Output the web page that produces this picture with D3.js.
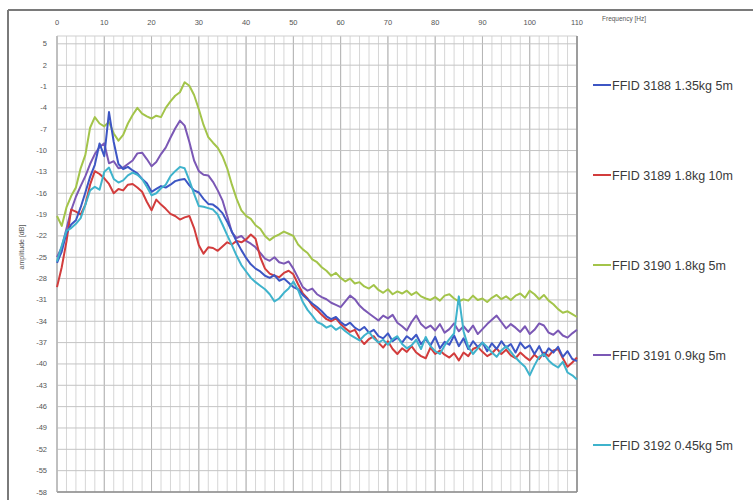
<!DOCTYPE html>
<html><head><meta charset="utf-8">
<script src="https://cdn.jsdelivr.net/npm/d3@7"></script>
<style>body{margin:0;background:#fff}svg{display:block}</style>
</head><body>
<script>
const freqs = d3.range(0, 111, 1);
const xTicks = [0,10,20,30,40,50,60,70,80,90,100,110];
const yTicks = [5,2,-1,-4,-7,-10,-13,-16,-19,-22,-25,-28,-31,-34,-37,-40,-43,-46,-49,-52,-55,-58];
const seriesNames = ["FFID 3188 1.35kg 5m","FFID 3189 1.8kg 10m","FFID 3190 1.8kg 5m","FFID 3191 0.9kg 5m","FFID 3192 0.45kg 5m"];
const seriesColors = ["#3d56c4","#d23c3c","#a3c44a","#7b58b5","#3fb3cc"];

const s3188 = [-25.8,-24.2,-21.6,-20.4,-19.8,-18.0,-15.9,-13.7,-12.0,-9.0,-10.8,-4.6,-8.8,-11.9,-12.6,-12.3,-12.8,-13.2,-14.0,-14.6,
-15.8,-15.4,-15.0,-15.2,-14.8,-14.3,-14.1,-14.0,-14.9,-15.6,-15.9,-16.8,-17.5,-17.6,-18.1,-18.8,-20.0,-21.4,-22.8,-24.0,
-25.1,-26.0,-26.6,-27.0,-27.6,-27.9,-27.5,-28.3,-28.0,-28.6,-29.2,-29.5,-30.3,-30.9,-31.5,-32.0,-32.6,-33.3,-33.7,-33.4,
-34.1,-34.6,-34.2,-34.9,-35.3,-34.8,-35.6,-35.2,-36.1,-36.4,-35.7,-36.8,-36.3,-37.0,-36.1,-36.6,-35.9,-37.2,-36.5,-37.4,
-36.2,-37.8,-36.9,-37.3,-36.0,-37.5,-36.4,-37.9,-36.8,-37.6,-37.0,-38.2,-37.1,-37.9,-36.8,-37.7,-37.2,-38.4,-37.0,-37.8,
-37.4,-38.6,-37.5,-38.9,-37.8,-38.4,-37.6,-39.0,-38.2,-39.3,-39.6];
const s3189 = [-29.2,-26.4,-22.8,-18.3,-18.6,-19.0,-17.6,-14.8,-12.9,-13.3,-13.9,-14.7,-16.0,-15.4,-15.6,-14.8,-14.7,-15.2,-15.8,-17.2,
-18.4,-16.9,-17.6,-18.2,-18.9,-19.2,-19.7,-19.4,-19.2,-20.9,-23.3,-24.5,-23.6,-23.7,-24.1,-23.5,-22.9,-23.2,-22.7,-22.9,
-22.5,-21.8,-22.4,-25.0,-26.6,-27.3,-27.6,-27.8,-27.2,-26.9,-27.4,-28.8,-30.1,-30.8,-31.8,-32.4,-33.1,-33.7,-34.0,-33.6,
-34.4,-35.0,-35.5,-35.2,-36.4,-37.2,-36.5,-36.1,-37.0,-37.7,-36.8,-37.9,-38.6,-37.8,-38.3,-37.5,-38.4,-38.9,-39.2,-37.7,
-38.6,-38.1,-38.7,-39.1,-38.5,-39.5,-38.4,-38.9,-37.9,-37.6,-38.3,-38.9,-38.5,-37.8,-38.6,-38.0,-38.8,-39.2,-38.4,-39.0,
-39.5,-38.7,-39.3,-38.4,-38.9,-38.1,-37.9,-39.2,-40.4,-39.8,-39.1];
const s3190 = [-19.2,-20.6,-18.0,-16.4,-15.2,-12.5,-10.6,-6.8,-5.3,-6.2,-6.6,-6.0,-7.6,-8.6,-7.8,-6.2,-5.0,-4.0,-4.8,-5.2,
-5.5,-5.1,-5.3,-4.0,-3.1,-2.3,-1.8,-0.4,-0.9,-2.2,-4.2,-6.4,-8.1,-8.9,-9.6,-10.8,-12.5,-14.8,-16.8,-18.4,
-19.2,-19.6,-20.5,-21.0,-22.0,-22.6,-22.1,-21.8,-21.4,-21.7,-22.0,-23.2,-23.9,-24.4,-25.3,-25.7,-26.4,-26.9,-27.6,-27.2,
-27.9,-28.4,-28.0,-28.7,-28.5,-29.1,-29.4,-28.9,-29.6,-30.0,-29.5,-30.2,-29.8,-30.1,-29.7,-30.3,-29.9,-30.5,-30.8,-31.0,
-30.6,-31.1,-30.4,-30.2,-30.8,-31.2,-30.9,-31.1,-30.4,-31.0,-30.8,-31.3,-30.7,-30.3,-30.9,-30.5,-31.0,-30.4,-30.1,-30.7,
-29.7,-30.2,-30.9,-30.3,-31.1,-31.6,-32.3,-32.8,-32.6,-33.0,-33.4];
const s3191 = [-25.0,-23.6,-21.0,-18.4,-16.5,-15.0,-13.6,-11.9,-10.5,-9.5,-9.0,-11.8,-11.5,-12.5,-12.4,-11.9,-11.4,-10.4,-10.3,-11.2,
-12.2,-11.6,-10.5,-9.6,-8.2,-6.9,-5.8,-6.5,-8.8,-11.4,-12.9,-13.4,-13.5,-14.4,-15.6,-17.0,-19.2,-21.5,-22.3,-22.0,
-22.7,-23.1,-23.6,-24.4,-25.2,-25.5,-25.0,-25.7,-25.9,-25.6,-26.6,-27.9,-29.2,-29.7,-29.4,-30.2,-30.6,-30.9,-31.4,-31.7,
-32.0,-31.2,-30.4,-30.9,-31.8,-32.4,-32.9,-33.4,-33.9,-33.2,-33.6,-33.1,-34.2,-34.7,-35.3,-34.1,-33.2,-34.4,-35.0,-34.6,
-35.3,-34.4,-35.6,-35.1,-34.3,-35.4,-34.7,-35.5,-34.6,-35.8,-35.1,-34.4,-33.8,-33.2,-34.1,-35.0,-34.4,-34.9,-35.5,-34.7,
-35.8,-35.2,-34.3,-34.6,-35.6,-35.9,-35.3,-36.0,-36.3,-35.7,-35.2];
const s3192 = [-25.6,-23.4,-21.3,-20.9,-20.3,-19.5,-17.6,-15.6,-15.1,-15.5,-13.0,-12.4,-14.0,-14.5,-14.2,-13.5,-13.1,-13.4,-14.0,-15.1,
-16.3,-16.0,-15.3,-14.8,-13.6,-12.9,-12.3,-12.5,-14.2,-16.1,-17.8,-17.9,-18.1,-18.3,-19.0,-20.4,-21.9,-23.3,-24.8,-26.1,
-27.0,-27.9,-28.5,-29.0,-29.5,-30.2,-31.2,-30.8,-30.0,-29.4,-28.4,-29.6,-31.3,-32.4,-33.2,-34.1,-34.4,-34.9,-34.6,-35.2,
-34.8,-35.4,-35.9,-36.3,-36.7,-36.0,-35.5,-36.4,-37.0,-36.6,-37.3,-36.5,-36.1,-37.2,-37.8,-37.4,-36.6,-37.9,-36.2,-37.5,
-38.2,-38.6,-37.4,-36.5,-35.7,-30.5,-35.4,-37.6,-38.6,-37.8,-37.0,-37.6,-38.4,-39.0,-38.1,-37.5,-38.3,-39.1,-39.8,-40.4,
-41.6,-40.2,-39.0,-38.6,-39.5,-40.1,-40.5,-39.7,-41.2,-41.6,-42.2];
const seriesValues = [s3188, s3189, s3190, s3191, s3192];

const W = 753, H = 500;
const svg = d3.select("body").append("svg").attr("width", W).attr("height", H);

const x = d3.scaleLinear().domain([0, 110]).range([57, 577]);
const y = d3.scaleLinear().domain([-58, 6.1]).range([492, 36]);

// outer frame
svg.append("line").attr("x1", 8).attr("x2", W).attr("y1", 10).attr("y2", 10).attr("stroke", "#7a7a7a").attr("stroke-width", 2);
svg.append("line").attr("x1", 8).attr("x2", 8).attr("y1", 10).attr("y2", H).attr("stroke", "#7a7a7a").attr("stroke-width", 2);

const g = svg.append("g");
// minor vertical grid
g.selectAll("line.vmin").data(d3.range(0, 111, 2)).join("line")
  .attr("x1", d => x(d)).attr("x2", d => x(d)).attr("y1", y(6.1)).attr("y2", y(-58))
  .attr("stroke", "#d6d6d6").attr("stroke-width", 1);
// major vertical grid
g.selectAll("line.vmaj").data(xTicks).join("line")
  .attr("x1", d => x(d)).attr("x2", d => x(d)).attr("y1", y(6.1)).attr("y2", y(-58))
  .attr("stroke", "#b4b4b4").attr("stroke-width", 1);
// horizontal grid
g.selectAll("line.h").data(yTicks).join("line")
  .attr("x1", x(0)).attr("x2", x(110)).attr("y1", d => y(d)).attr("y2", d => y(d))
  .attr("stroke", "#c4c4c4").attr("stroke-width", 1);
g.append("line").attr("x1", x(0)).attr("x2", x(110)).attr("y1", y(6.1)).attr("y2", y(6.1)).attr("stroke", "#cfcfcf");
// axis borders
g.append("line").attr("x1", x(110)).attr("x2", x(110)).attr("y1", y(6.1)).attr("y2", y(-58)).attr("stroke", "#8c8c8c").attr("stroke-width", 1.5);
g.append("line").attr("x1", x(0)).attr("x2", x(110)).attr("y1", y(-58)).attr("y2", y(-58)).attr("stroke", "#8c8c8c").attr("stroke-width", 1.5);
g.append("line").attr("x1", x(0)).attr("x2", x(0)).attr("y1", y(6.1)).attr("y2", y(-58)).attr("stroke", "#b0b0b0").attr("stroke-width", 1);

// x tick labels (top)
svg.selectAll("text.xt").data(xTicks).join("text")
  .attr("x", d => x(d)).attr("y", 25).attr("text-anchor", "middle")
  .attr("font-family", "Liberation Sans, Arial, sans-serif").attr("font-size", 7.5).attr("fill", "#555")
  .text(d => d);
// y tick labels
svg.selectAll("text.yt").data(yTicks).join("text")
  .attr("x", 47).attr("y", d => y(d) + 2.5).attr("text-anchor", "end")
  .attr("font-family", "Liberation Sans, Arial, sans-serif").attr("font-size", 7.5).attr("fill", "#555")
  .text(d => d);
svg.append("text").attr("x", 602).attr("y", 21)
  .attr("font-family", "Liberation Sans, Arial, sans-serif").attr("font-size", 6.5).attr("fill", "#555")
  .text("Frequency [Hz]");
svg.append("text").attr("transform", "translate(24,247) rotate(-90)").attr("text-anchor", "middle")
  .attr("font-family", "Liberation Sans, Arial, sans-serif").attr("font-size", 7).attr("fill", "#555")
  .text("amplitude [dB]");

// lines
const line = d3.line().x((d, i) => x(freqs[i])).y(d => y(d));
const drawOrder = [2, 3, 1, 0, 4];
drawOrder.forEach(k => {
  svg.append("path").datum(seriesValues[k]).attr("d", line)
    .attr("fill", "none").attr("stroke", seriesColors[k]).attr("stroke-width", 2)
    .attr("stroke-linejoin", "round");
});

// legend
const legendY = [85, 175, 265, 355, 445];
seriesNames.forEach((name, i) => {
  svg.append("line").attr("x1", 593).attr("x2", 611).attr("y1", legendY[i]).attr("y2", legendY[i])
    .attr("stroke", seriesColors[i]).attr("stroke-width", 2);
  svg.append("text").attr("x", 612).attr("y", legendY[i] + 4.5)
    .attr("font-family", "Liberation Sans, Arial, sans-serif").attr("font-size", 12.5).attr("fill", "#3a3a3a")
    .text(name);
});
</script>
</body></html>
